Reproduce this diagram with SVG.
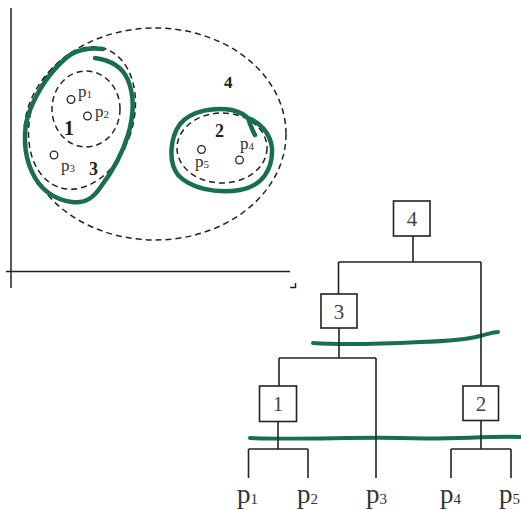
<svg xmlns="http://www.w3.org/2000/svg" width="521" height="510" viewBox="0 0 521 510">
<defs>
<style>
.ax{stroke:#222;stroke-width:1.5;fill:none}
.dash{stroke:#222;stroke-width:1.5;fill:none;stroke-dasharray:6 4}
.pt{stroke:#222;stroke-width:1.3;fill:#fff}
.green{stroke:#17704b;stroke-width:4.5;fill:none;stroke-linecap:round;stroke-linejoin:round}
.gl{stroke:#17704b;stroke-width:4;fill:none;stroke-linecap:round}
.ln{stroke:#222;stroke-width:1.6;fill:none}
.box{stroke:#222;stroke-width:1.6;fill:#fff}
.lbl{font-family:"Liberation Serif",serif;fill:#333}
.num{font-family:"Liberation Serif",serif;font-weight:bold;fill:#222}
.bn{font-family:"Liberation Serif",serif;font-size:21px;fill:#444;text-anchor:middle}
.tp{font-family:"Liberation Serif",serif;font-size:27px;fill:#333}
</style>
</defs>
<rect width="521" height="510" fill="#fff"/>

<g id="axes">
<line class="ax" x1="11" y1="8" x2="11" y2="288"/>
<line class="ax" x1="6" y1="271.5" x2="290" y2="271.5"/>
<path class="ax" d="M290,287.5 H295.5 V283" stroke-width="1.2"/>
</g>

<g id="cluster4"><ellipse class="dash" cx="155" cy="134" rx="131" ry="106"/>
<text class="num" x="224" y="88" font-size="17">4</text></g>
<g id="cluster3"><ellipse class="dash" cx="82" cy="118" rx="51" ry="73" transform="rotate(18 82 118)"/>
<text class="num" x="89" y="175" font-size="18">3</text></g>
<g id="cluster1"><ellipse class="dash" cx="86" cy="109" rx="34" ry="38"/>
<text class="num" x="64" y="135" font-size="20">1</text></g>
<g id="cluster2"><ellipse class="dash" cx="222" cy="148" rx="45" ry="35"/>
<text class="num" x="215" y="137" font-size="18">2</text></g>

<g id="points">
<circle class="pt" cx="71" cy="99.5" r="3.8"/>
<text class="lbl" x="78" y="97" font-size="17">p<tspan font-size="11" dy="1">1</tspan></text>
<circle class="pt" cx="87.5" cy="116" r="3.8"/>
<text class="lbl" x="95" y="117" font-size="17">p<tspan font-size="11" dy="1">2</tspan></text>
<circle class="pt" cx="54" cy="155" r="3.8"/>
<text class="lbl" x="61" y="171" font-size="17">p<tspan font-size="11" dy="1">3</tspan></text>
<circle class="pt" cx="201.5" cy="149.5" r="3.8"/>
<text class="lbl" x="195" y="167" font-size="17">p<tspan font-size="11" dy="1">5</tspan></text>
<circle class="pt" cx="239.5" cy="160" r="3.8"/>
<text class="lbl" x="240" y="149" font-size="17">p<tspan font-size="11" dy="1">4</tspan></text>
</g>

<g id="green-marks">
<path class="green" d="M103,49 C90,47 75,50 66,58 C50,72 38,90 30,110 C22,130 24,155 32,172 C40,190 55,200 72,202 C85,204 93,198 100,188 C112,172 122,155 128,135 C134,115 134,95 128,80 C122,66 110,60 95,58"/>
<path class="green" d="M255,135 C252,130 250,124 248,118 C259,122 270,132 272,148 C273,170 262,186 240,190 C215,194 190,188 178,175 C168,162 170,138 180,124 C192,110 215,107 232,110 C240,112 245,115 249,119"/>
<path class="gl" d="M313,343 C340,345 380,344 420,342 C450,341 470,339 480,336 C488,334 494,332 498,332"/>
<path class="gl" d="M250,438 C300,440 350,437 400,438 C450,440 480,436 521,437"/>
</g>

<g id="connectors">
<path class="ln" d="M413,236 V262 M338.5,262 H481 M338.5,262 V294 M481,262 V386"/>
<path class="ln" d="M339,328 V358 M279,358 H376 M279,358 V386 M376,358 V478"/>
<path class="ln" d="M278,421.5 V449 M248.5,449 H308 M248.5,449 V478 M308,449 V478"/>
<path class="ln" d="M481,420.5 V449 M451,449 H511 M451,449 V478 M511,449 V478"/>
</g>

<g id="node4"><rect class="box" x="393.5" y="201" width="36.5" height="35"/><text class="bn" x="412" y="226">4</text></g>
<g id="node3"><rect class="box" x="321" y="294" width="36" height="34"/><text class="bn" x="339" y="319">3</text></g>
<g id="node1"><rect class="box" x="259.5" y="386" width="37" height="35.5"/><text class="bn" x="278" y="411">1</text></g>
<g id="node2"><rect class="box" x="463" y="386" width="35.5" height="34.5"/><text class="bn" x="481" y="411">2</text></g>

<g id="leaves">
<text class="tp" x="237" y="503">p<tspan font-size="15" dy="1">1</tspan></text>
<text class="tp" x="297" y="503">p<tspan font-size="15" dy="1">2</tspan></text>
<text class="tp" x="366" y="503">p<tspan font-size="15" dy="1">3</tspan></text>
<text class="tp" x="440" y="503">p<tspan font-size="15" dy="1">4</tspan></text>
<text class="tp" x="499" y="503">p<tspan font-size="15" dy="1">5</tspan></text>
</g>
</svg>
